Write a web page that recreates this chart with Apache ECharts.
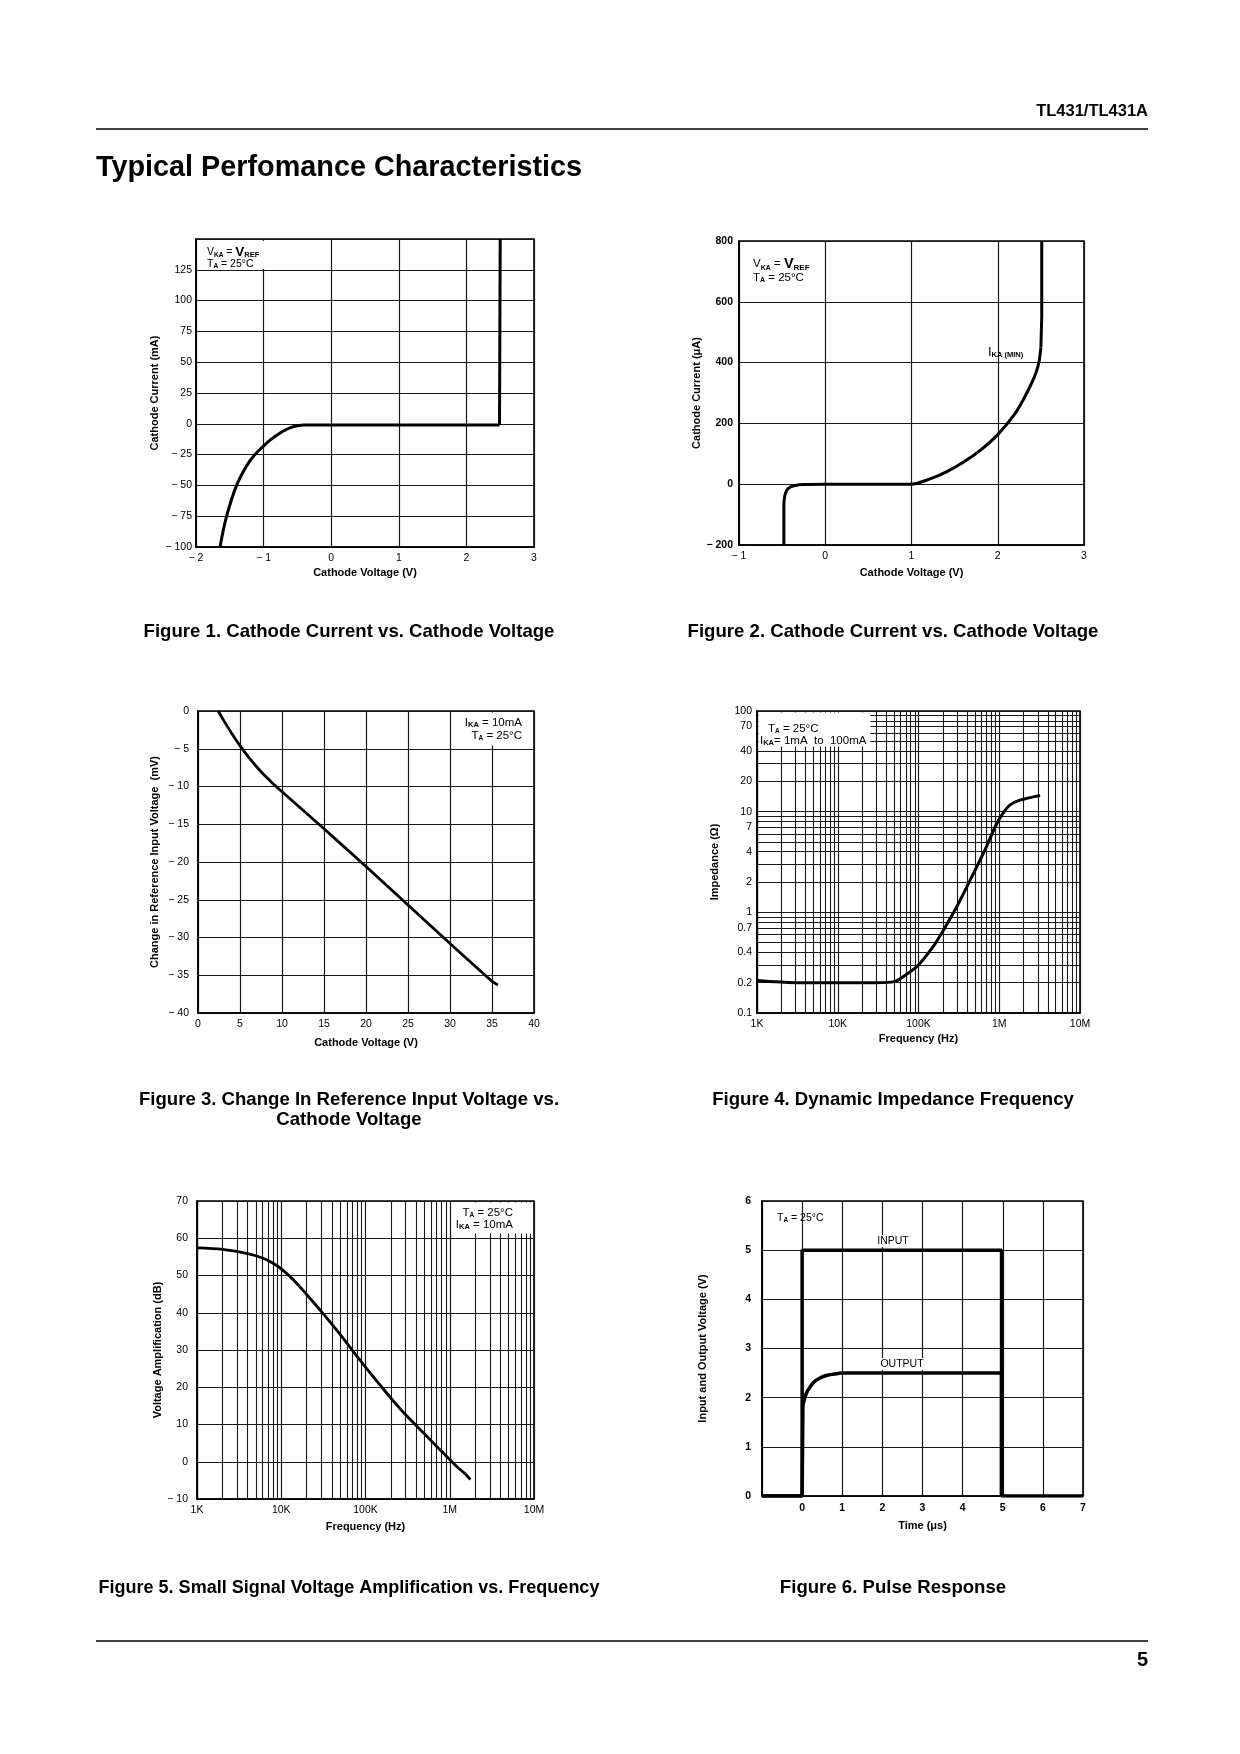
<!DOCTYPE html>
<html><head><meta charset="utf-8">
<script src="https://cdn.jsdelivr.net/npm/echarts@6.0.0/dist/echarts.min.js"></script>
<style>html,body{margin:0;padding:0;background:#fff}#c{width:1240px;height:1754px}</style>
</head><body><div id="c"></div>
<script>
// ---------- DATA ----------
// Figure 1: Cathode current (mA) vs cathode voltage (V)
const fig1Voltage = [-1.645,-1.547,-1.4,-1.25,-1.128,-1.0,-0.9,-0.8,-0.7,-0.6,-0.5,-0.4,0,1,2,2.49];
const fig1Current = [-100,-75,-50,-34,-25,-18,-13,-9,-5.6,-3.1,-1.6,-1,-1,-1,-1,-1];
const fig1StepVoltage = [2.49,2.5,2.5];
const fig1StepCurrent = [-1,0,150];
// Figure 2: Cathode current (uA) vs cathode voltage (V)
const fig2Voltage = [-0.48,-0.48,-0.47,-0.45,-0.41,-0.35,-0.25,0,1,1.2,1.4,1.6,1.8,2.0,2.2,2.3,2.4,2.45,2.48,2.5];
const fig2Current = [-200,-70,-40,-22,-10,-4,-1,0,0,16,40,72,112,163,232,280,337,372,405,450];
const fig2StepVoltage = [2.5,2.51,2.51];
const fig2StepCurrent = [450,550,800];
// Figure 3: change in reference input voltage (mV) vs cathode voltage (V)
const fig3Voltage = [2.4,3,4,5,6,7,8,9,10,15,20,25,30,35,35.7];
const fig3DeltaVref = [0,-1.14,-2.94,-4.59,-6.09,-7.42,-8.62,-9.69,-10.69,-15.6,-20.6,-25.7,-30.8,-35.8,-36.3];
// Figure 4: dynamic impedance (ohm) vs frequency (Hz)
const fig4Freq = [1000,3000,10000,30000,50000,70000,100000,150000,200000,300000,450000,650000,900000,1100000,1350000,1800000,3200000];
const fig4Impedance = [0.21,0.2,0.2,0.2,0.205,0.24,0.3,0.45,0.65,1.15,2.2,4,7.2,9.5,11.6,13,14.5];
// Figure 5: small signal voltage amplification (dB) vs frequency (Hz)
const fig5Freq = [1000,2000,4000,6000,8000,10000,14000,20000,30000,50000,70000,100000,150000,200000,300000,500000,700000,850000,1200000,1500000,1760000];
const fig5Gain = [57.4,57.0,55.9,54.7,53.3,51.8,48.8,44.9,40.3,34.2,29.9,25.4,20.5,17.1,12.6,7.5,4.1,2.2,-1.2,-3.1,-4.8];
// Figure 6: pulse response (V) vs time (us)
const fig6TimeIn = [-1,0,0,4.97,4.97,7];
const fig6Input = [0,0,5,5,0,0];
const fig6TimeOutStep = [-1,0,0.02];
const fig6OutputStep = [0,0,1.85];
const fig6TimeOut = [0.02,0.1,0.2,0.3,0.45,0.6,0.8,1,4.97];
const fig6Output = [1.85,2.08,2.22,2.32,2.4,2.45,2.48,2.5,2.5];
const fig6TimeOutEnd = [4.97,4.97];
const fig6OutputEnd = [2.5,0];
// Tick labels
const freqLabels = ['1K','10K','100K','1M','10M'];
const impedanceLabelValues = [0.1,0.2,0.4,0.7,1,2,4,7,10,20,40,70,100];

// ---------- CHART ----------
const FONT = '"Liberation Sans", Arial, Helvetica, sans-serif';
const zip = (a, b) => a.map((v, i) => [v, b[i]]);
const minusFmt = v => v < 0 ? '\u2212 ' + Math.abs(v) : String(v);
const freqFmt = v => freqLabels[Math.round(Math.log10(v)) - 3] || '';

const gridDefs = [
  {left:196, top:239, width:338, height:308},
  {left:739, top:241, width:345, height:304},
  {left:198, top:711, width:336, height:302},
  {left:757, top:711, width:323, height:302},
  {left:197, top:1201, width:337, height:298},
  {left:762, top:1201, width:321, height:295}
].map(g => Object.assign({show:true, borderColor:'#000', borderWidth:1.6, backgroundColor:'transparent', containLabel:false}, g));

const splitL = {show:true, lineStyle:{color:'#1a1a1a', width:1.2}};
const nameStyle = {color:'#000', fontSize:11, fontWeight:'bold', fontFamily:FONT};
function axis(gridIndex, o) {
  const base = {
    gridIndex, type:'value', nameLocation:'middle', nameTextStyle:nameStyle,
    axisLine:{show:true, onZero:false, lineStyle:{color:'#000', width:1.6}},
    axisTick:{show:false},
    splitLine:splitL,
    axisLabel:Object.assign({color:'#000', fontSize:10.5, fontFamily:FONT, showMinLabel:true, showMaxLabel:true}, o.label || {})
  };
  delete o.label;
  return Object.assign(base, o);
}

const xAxes = [
  axis(0, {min:-2, max:3, interval:1, name:'Cathode Voltage (V)', nameGap:20, label:{formatter:minusFmt, margin:6}}),
  axis(1, {min:-1, max:3, interval:1, name:'Cathode Voltage (V)', nameGap:22, label:{formatter:minusFmt, margin:6}}),
  axis(2, {min:0, max:40, interval:5, name:'Cathode Voltage (V)', nameGap:24, label:{margin:6}}),
  axis(3, {type:'log', logBase:10, min:1000, max:10000000, name:'Frequency (Hz)', nameGap:20, label:{formatter:freqFmt, margin:6},
    minorTick:{show:false, splitNumber:9}, minorSplitLine:{show:true, lineStyle:{color:'#1a1a1a', width:1.1}}}),
  axis(4, {type:'log', logBase:10, min:1000, max:10000000, name:'Frequency (Hz)', nameGap:22, label:{formatter:freqFmt, margin:6},
    minorTick:{show:false, splitNumber:9}, minorSplitLine:{show:true, lineStyle:{color:'#1a1a1a', width:1.1}}}),
  axis(5, {min:-1, max:7, interval:1, name:'Time (\u03bcs)', nameGap:24, label:{formatter:v => v < 0 ? '' : String(v), margin:7, fontWeight:'bold'}})
];
const yAxes = [
  axis(0, {min:-100, max:150, interval:25, name:'Cathode Current (mA)', nameGap:36, label:{formatter:v => v > 125 ? '' : minusFmt(v), margin:4}}),
  axis(1, {min:-200, max:800, interval:200, name:'Cathode Current (\u03bcA)', nameGap:34, label:{formatter:minusFmt, margin:6, fontWeight:'bold'}}),
  axis(2, {min:-40, max:0, interval:5, name:'Change in Reference Input Voltage  (mV)', nameGap:38, label:{formatter:minusFmt, margin:9}}),
  axis(3, {type:'log', logBase:10, min:0.1, max:100, name:'Impedance (\u03a9)', nameGap:37, label:{customValues:impedanceLabelValues, formatter:v => String(+v.toPrecision(3)), margin:5},
    minorTick:{show:false, splitNumber:9}, minorSplitLine:{show:true, lineStyle:{color:'#1a1a1a', width:1.1}}}),
  axis(4, {min:-10, max:70, interval:10, name:'Voltage Amplification (dB)', nameGap:30, label:{formatter:minusFmt, margin:9}}),
  axis(5, {min:0, max:6, interval:1, name:'Input and Output Voltage (V)', nameGap:54, label:{margin:11, fontWeight:'bold'}})
];

function line(idx, data, smooth, width) {
  return {type:'line', xAxisIndex:idx, yAxisIndex:idx, data, smooth:smooth || false, symbol:'none', z:5,
    lineStyle:{color:'#000', width:width || 3}, silent:true};
}
const series = [
  line(0, zip(fig1Voltage, fig1Current), 0.35),
  line(0, zip(fig1StepVoltage, fig1StepCurrent), false),
  line(1, zip(fig2Voltage, fig2Current), 0.3),
  line(1, zip(fig2StepVoltage, fig2StepCurrent), false),
  line(2, zip(fig3Voltage, fig3DeltaVref), 0.2, 2.8),
  line(3, zip(fig4Freq, fig4Impedance), 0.3),
  line(4, zip(fig5Freq, fig5Gain), 0.3, 2.8),
  line(5, zip(fig6TimeIn, fig6Input), false, 3.5),
  line(5, zip(fig6TimeOutStep, fig6OutputStep), false, 3.5),
  line(5, zip(fig6TimeOut, fig6Output), 0.4, 3.5),
  line(5, zip(fig6TimeOutEnd, fig6OutputEnd), false, 3.5)
];

// ---------- TEXT / PAGE ELEMENTS ----------
function txt(x, y, text, o) {
  return {type:'text', x, y, z:20, silent:true,
    style:Object.assign({text, fill:'#000', fontFamily:FONT, fontSize:12, fontWeight:'normal', align:'left', verticalAlign:'middle'}, o || {})};
}
function box(x, y, w, h) {
  return {type:'rect', z:10, silent:true, shape:{x, y, width:w, height:h}, style:{fill:'#fff'}};
}
function hline(y) {
  return {type:'line', z:10, silent:true, shape:{x1:96, y1:y, x2:1148, y2:y}, style:{stroke:'#000', lineWidth:1.3}};
}
function rich(n, s, b, sb) {
  return {
    t:{fontSize:n, fontFamily:FONT, fill:'#000'},
    s:{fontSize:s, fontFamily:FONT, fontWeight:'bold', fill:'#000', verticalAlign:'bottom'},
    b:{fontSize:b, fontFamily:FONT, fontWeight:'bold', fill:'#000'},
    sb:{fontSize:sb, fontFamily:FONT, fontWeight:'bold', fill:'#000', verticalAlign:'bottom'}
  };
}
const cap = {fontSize:18.6, fontWeight:'bold', align:'center'};
const graphics = [
  txt(1148, 111, 'TL431/TL431A', {fontSize:16.5, fontWeight:'bold', align:'right'}),
  hline(129),
  txt(96, 168, 'Typical Perfomance Characteristics', {fontSize:28.8, fontWeight:'bold'}),
  txt(349, 632, 'Figure 1. Cathode Current vs. Cathode Voltage', cap),
  txt(893, 632, 'Figure 2. Cathode Current vs. Cathode Voltage', cap),
  txt(349, 1100, 'Figure 3. Change In Reference Input Voltage vs.', cap),
  txt(349, 1120, 'Cathode Voltage', cap),
  txt(893, 1100, 'Figure 4. Dynamic Impedance Frequency', cap),
  txt(349, 1588, 'Figure 5. Small Signal Voltage Amplification vs. Frequency', Object.assign({}, cap, {fontSize:18})),
  txt(893, 1588, 'Figure 6. Pulse Response', cap),
  hline(1641),
  txt(1148, 1660, '5', {fontSize:20, fontWeight:'bold', align:'right'}),

  // Fig 1 annotation
  box(198, 241, 67, 28),
  txt(207, 252, '{t|V}{s|KA}{t| = }{b|V}{sb|REF}', {rich:rich(10.5, 6.5, 13.5, 7.5)}),
  txt(207, 264, '{t|T}{s|A}{t| = 25\u00b0C}', {rich:rich(10.5, 6.5, 13, 7.5)}),
  // Fig 2 annotation
  txt(753, 264, '{t|V}{s|KA}{t| = }{b|V}{sb|REF}', {rich:rich(11.5, 7, 14.5, 8)}),
  txt(753, 278, '{t|T}{s|A}{t| = 25\u00b0C}', {rich:rich(11.5, 7, 14.5, 8)}),
  txt(988, 352, '{t|I}{sb|KA (MIN)}', {rich:rich(13, 7, 13, 7.5)}),
  // Fig 3 annotation
  box(452, 712.5, 80.5, 33),
  txt(522, 723, '{t|I}{sb|KA}{t| = 10mA}', {align:'right', rich:rich(11.5, 7, 13, 7.5)}),
  txt(522, 736, '{t|T}{s|A}{t| = 25\u00b0C}', {align:'right', rich:rich(11.5, 6.5, 13, 7.5)}),
  // Fig 4 annotation
  box(758.5, 712.5, 112, 34),
  txt(768, 729, '{t|T}{s|A}{t| = 25\u00b0C}', {rich:rich(11.5, 6.5, 13, 7.5)}),
  txt(760, 741, '{t|I}{sb|KA}{t|= 1mA  to  100mA}', {rich:rich(11.5, 7, 13, 7.5)}),
  // Fig 5 annotation
  box(452, 1202.5, 80.5, 31),
  txt(513, 1213, '{t|T}{s|A}{t| = 25\u00b0C}', {align:'right', rich:rich(11.5, 6.5, 13, 7.5)}),
  txt(513, 1225, '{t|I}{sb|KA}{t| = 10mA}', {align:'right', rich:rich(11.5, 7, 13, 7.5)}),
  // Fig 6 annotation
  txt(777, 1218, '{t|T}{s|A}{t| = 25\u00b0C}', {rich:rich(10.5, 6.5, 13, 7.5)}),
  box(876, 1235, 36, 12),
  txt(893, 1241, 'INPUT', {fontSize:10.5, align:'center'}),
  box(879, 1358, 47, 12),
  txt(902, 1364, 'OUTPUT', {fontSize:10.5, align:'center'})
];

const chart = echarts.init(document.getElementById('c'), null, {renderer:'canvas'});
chart.setOption({
  animation:false,
  backgroundColor:'#fff',
  textStyle:{fontFamily:FONT},
  grid:gridDefs,
  xAxis:xAxes,
  yAxis:yAxes,
  series,
  graphic:{elements:graphics}
});
</script>
</body></html>
